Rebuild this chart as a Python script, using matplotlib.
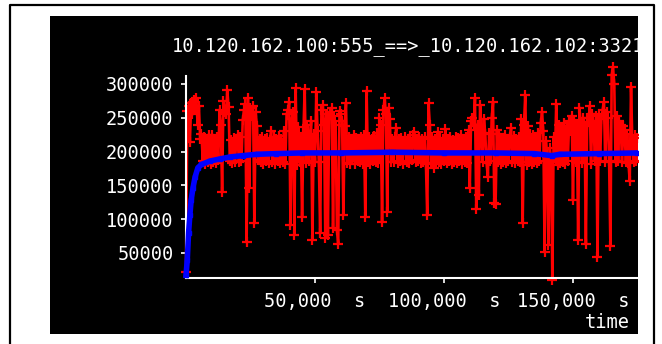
import numpy as np
import matplotlib
matplotlib.use("Agg")
import matplotlib.pyplot as plt
from matplotlib.patches import Rectangle
from matplotlib.lines import Line2D
from matplotlib.transforms import Bbox, TransformedBbox
from matplotlib.ticker import FixedLocator, FixedFormatter

# Data
title = "10.120.162.100:555_==>_10.120.162.102:3321"
sample_step = 500  # seconds between throughput samples

# instantaneous throughput, one value per sample
throughput = [
    22000, 260000, 268000, 214000, 272000, 255000, 276000, 262000, 279000, 240000,
    268000, 218000, 226000, 186000, 222000, 182000, 218000, 184000, 224000, 181000,
    225000, 185000, 219000, 183000, 221000, 187000, 262000, 240000, 140000, 275000,
    258000, 255000, 291000, 266000, 186000, 217000, 183000, 220000, 185000, 218000,
    225000, 184000, 221000, 186000, 247000, 262000, 270000, 66000, 279000, 146000,
    265000, 252000, 268000, 94000, 258000, 238000, 187000, 219000, 184000, 222000,
    182000, 218000, 186000, 220000, 183000, 217000, 230000, 185000, 221000, 181000,
    219000, 186000, 223000, 183000, 218000, 185000, 230000, 182000, 255000, 262000,
    273000, 91000, 248000, 258000, 77000, 294000, 180000, 236000, 185000, 222000,
    103000, 228000, 292000, 183000, 240000, 186000, 220000, 245000, 69000, 226000,
    184000, 288000, 230000, 185000, 80000, 262000, 269000, 240000, 72000, 255000,
    77000, 248000, 258000, 265000, 87000, 252000, 240000, 84000, 63000, 260000,
    255000, 245000, 106000, 238000, 272000, 183000, 222000, 182000, 218000, 187000,
    224000, 181000, 220000, 186000, 217000, 184000, 221000, 182000, 225000, 103000,
    290000, 185000, 221000, 182000, 219000, 186000, 223000, 184000, 228000, 183000,
    250000, 240000, 96000, 262000, 279000, 255000, 111000, 265000, 248000, 185000,
    218000, 184000, 221000, 235000, 183000, 219000, 186000, 220000, 181000, 216000,
    222000, 185000, 218000, 183000, 220000, 187000, 224000, 229000, 184000, 218000,
    186000, 222000, 183000, 219000, 185000, 221000, 182000, 106000, 272000, 240000,
    183000, 222000, 176000, 218000, 185000, 229000, 184000, 220000, 182000, 219000,
    186000, 233000, 183000, 219000, 186000, 222000, 181000, 217000, 185000, 221000,
    183000, 220000, 186000, 224000, 182000, 218000, 185000, 222000, 183000, 232000,
    146000, 245000, 250000, 238000, 279000, 115000, 240000, 136000, 269000, 236000,
    185000, 248000, 226000, 183000, 162000, 228000, 186000, 250000, 273000, 124000,
    123000, 232000, 184000, 226000, 182000, 220000, 185000, 224000, 183000, 219000,
    186000, 221000, 235000, 185000, 223000, 183000, 219000, 186000, 222000, 184000,
    248000, 94000, 240000, 284000, 180000, 238000, 184000, 226000, 182000, 224000,
    185000, 221000, 183000, 228000, 186000, 242000, 259000, 230000, 52000, 215000,
    192000, 62000, 205000, 188000, 10000, 221000, 190000, 270000, 180000, 240000,
    183000, 236000, 185000, 242000, 182000, 238000, 186000, 245000, 230000, 253000,
    128000, 246000, 184000, 240000, 69000, 265000, 242000, 183000, 250000, 238000,
    64000, 250000, 244000, 267000, 182000, 256000, 240000, 186000, 252000, 44000,
    255000, 186000, 248000, 262000, 273000, 184000, 258000, 250000, 186000, 60000,
    313000, 325000, 300000, 184000, 252000, 186000, 245000, 240000, 185000, 238000,
    232000, 185000, 226000, 183000, 156000, 296000, 215000, 184000, 224000, 186000,
    220000,
]

# running average
avg_time = [0, 500, 1000, 1500, 2000, 2700, 3500, 4600, 6000, 9300, 13000, 17000,
            22000, 27400, 35000, 45000, 60000, 80000, 100000, 120000, 135000,
            141700, 145000, 160000, 175000]
avg_value = [17000, 40000, 80000, 106000, 128000, 146000, 162000, 176000, 181000,
             186000, 189000, 192000, 194000, 196000, 197000, 198000, 198000,
             199000, 198000, 198000, 197000, 194000, 196000, 197000, 198000]

y_ticks = [50000, 100000, 150000, 200000, 250000, 300000]
x_ticks = [50000, 100000, 150000]
x_tick_labels = ["50,000  s", "100,000  s", "150,000  s"]

t = np.arange(len(throughput)) * sample_step

W, H = 662, 344
fig = plt.figure(figsize=(W / 100, H / 100), dpi=100)
fig.patch.set_facecolor("white")

# black plotting panel
px0, py0, px1, py1 = 50, 16, 638, 334
panel = Rectangle((px0 / W, 1 - py1 / H), (px1 - px0) / W, (py1 - py0) / H,
                  transform=fig.transFigure, facecolor="black", edgecolor="none", zorder=-10)
fig.patches.append(panel)

# outer frame (open at the bottom)
fx0, fy0, fx1 = 10, 5, 654
frame = Line2D([fx0 / W, fx0 / W, fx1 / W, fx1 / W], [0, 1 - fy0 / H, 1 - fy0 / H, 0],
               transform=fig.transFigure, color="black", lw=1.6, zorder=-5)
fig.lines.append(frame)

ax = fig.add_axes([186 / W, 66 / H, (638 - 186) / W, (278 - 76) / H])
ax.patch.set_visible(False)

clip = TransformedBbox(Bbox([[px0 / W, 1 - py1 / H], [px1 / W, 1 - py0 / H]]), fig.transFigure)

font = dict(family="DejaVu Sans Mono", size=13.4, color="white")

red, = ax.plot(t, throughput, color="#ff0000", lw=1.9, marker="+", ms=6.5, mew=1.6, zorder=2)
blue, = ax.plot(avg_time, avg_value, color="#0000ff", lw=4.0, marker="s", ms=2.5, zorder=3)
for ln in (red, blue):
    ln.set_clip_box(clip)

ax.set_xlim(0, 175200)
ax.set_ylim(13000, 311800)

for side in ("top", "right"):
    ax.spines[side].set_visible(False)
for side in ("left", "bottom"):
    ax.spines[side].set_color("white")
    ax.spines[side].set_linewidth(1.5)

ax.yaxis.set_major_locator(FixedLocator(y_ticks))
ax.yaxis.set_major_formatter(FixedFormatter([str(v) for v in y_ticks]))
ax.xaxis.set_major_locator(FixedLocator(x_ticks))
ax.xaxis.set_major_formatter(FixedFormatter(x_tick_labels))
ax.tick_params(axis="both", colors="white", length=3.5, width=1.2, direction="out")
ax.tick_params(axis="y", pad=5.5)
ax.tick_params(axis="x", pad=6.5)
for lab in ax.get_xticklabels() + ax.get_yticklabels():
    lab.set_fontfamily(font["family"])
    lab.set_fontsize(font["size"])
    lab.set_color("white")

ttl = fig.text(172 / W, 1 - 47 / H, title, ha="left", va="center", **font)
ttl.set_clip_box(clip)
ttl.set_clip_on(True)

fig.text(630 / W, 1 - 322 / H, "time", ha="right", va="center", **font)

fig.savefig("out.png", dpi=100)
